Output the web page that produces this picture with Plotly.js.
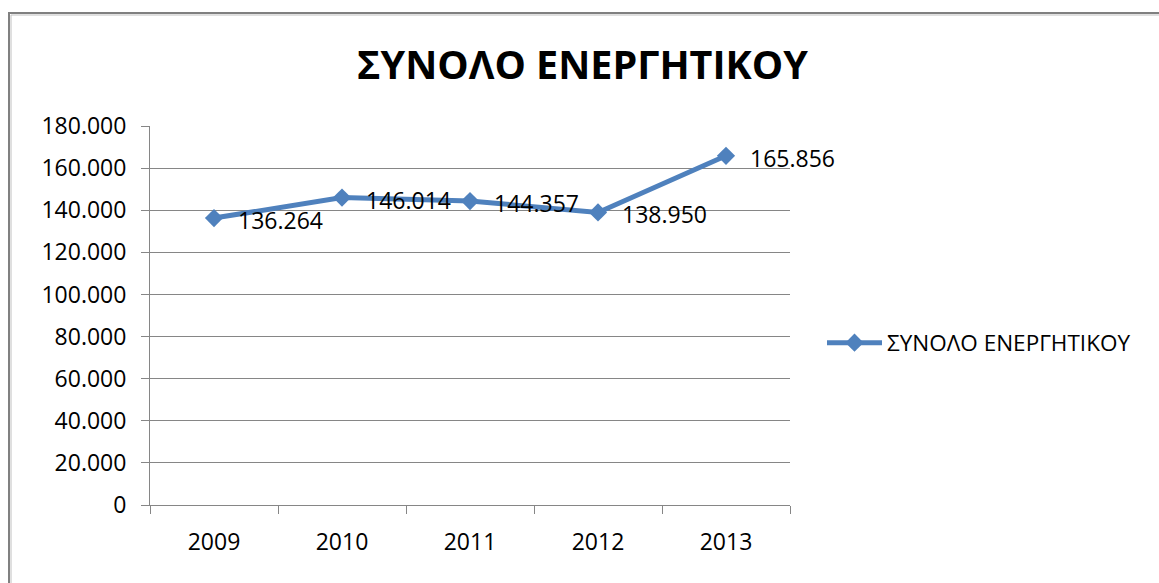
<!DOCTYPE html>
<html>
<head>
<meta charset="utf-8">
<script src="https://cdn.plot.ly/plotly-3.0.1.min.js"></script>
<style>html,body{margin:0;padding:0;background:#fff;}#chart{width:1159px;height:583px;}</style>
</head>
<body>
<div id="chart"></div>
<script>
var years = ['2009', '2010', '2011', '2012', '2013'];
var totals = [136264, 146014, 144357, 138950, 165856];
var seriesName = 'ΣΥΝΟΛΟ ΕΝΕΡΓΗΤΙΚΟΥ';
var chartTitle = 'ΣΥΝΟΛΟ ΕΝΕΡΓΗΤΙΚΟΥ';
var yTicks = [0, 20000, 40000, 60000, 80000, 100000, 120000, 140000, 160000, 180000];

var blue = '#4F81BD';
var fontFam = '"Open Sans", "Noto Sans", sans-serif';

function fmt(v) {
  return String(v).replace(/\B(?=(\d{3})+(?!\d))/g, '.');
}

var trace = {
  x: years,
  y: totals,
  name: seriesName,
  type: 'scatter',
  mode: 'lines+markers',
  line: {color: blue, width: 5},
  marker: {symbol: 'diamond', size: 14, color: blue}
};

var annotations = years.map(function (yr, i) {
  return {
    x: i, y: totals[i], xref: 'x', yref: 'y',
    text: fmt(totals[i]),
    showarrow: false, xanchor: 'left', yanchor: 'middle',
    xshift: 22, yshift: -2,
    font: {family: fontFam, size: 23, color: '#000'}
  };
});

var layout = {
  width: 1159, height: 583,
  margin: {l: 150, r: 369, t: 126, b: 78},
  paper_bgcolor: '#fff', plot_bgcolor: '#fff',
  separators: ',.',
  font: {family: fontFam, color: '#000'},
  title: {
    text: '<b>' + chartTitle + '</b>',
    font: {family: fontFam, size: 39.5, color: '#000'},
    x: 0.5026, xanchor: 'center', xref: 'container',
    y: 1 - 65 / 583, yanchor: 'middle', yref: 'container'
  },
  xaxis: {
    type: 'category',
    categoryarray: years,
    range: [-0.5, years.length - 0.5],
    autorange: false,
    showgrid: false,
    showline: true, linecolor: '#868686', linewidth: 1,
    ticks: 'outside', tickson: 'boundaries', ticklen: 8, tickcolor: '#868686',
    tickfont: {family: fontFam, size: 23, color: '#000'},
    tickangle: 0,
    ticklabelstandoff: 16,
    zeroline: false,
    fixedrange: true
  },
  yaxis: {
    range: [0, 180000],
    autorange: false,
    tickvals: yTicks,
    tickformat: ',d',
    showgrid: true, gridcolor: '#868686', gridwidth: 1,
    showline: true, linecolor: '#868686', linewidth: 1,
    ticks: 'outside', ticklen: 8, tickcolor: '#868686',
    tickfont: {family: fontFam, size: 23, color: '#000'},
    ticklabelstandoff: 10,
    zeroline: false,
    fixedrange: true
  },
  showlegend: true,
  legend: {
    x: (822 - 150) / 640, xanchor: 'left',
    y: (505 - 343) / 379, yanchor: 'middle',
    font: {family: fontFam, size: 22.5, color: '#000'},
    itemwidth: 55,
    bgcolor: 'rgba(0,0,0,0)'
  },
  annotations: annotations,
  shapes: [
    {type: 'rect', xref: 'paper', yref: 'paper',
     x0: (9 - 150) / 640, x1: (1170 - 150) / 640,
     y0: (505 - 600) / 379, y1: (505 - 13) / 379,
     line: {color: '#808080', width: 2}, layer: 'below'},
    {type: 'rect', xref: 'paper', yref: 'paper',
     x0: (11 - 150) / 640, x1: (1170 - 150) / 640,
     y0: (505 - 600) / 379, y1: (505 - 15) / 379,
     line: {color: '#c0c0c0', width: 1}, layer: 'below'}
  ]
};

Plotly.newPlot('chart', [trace], layout, {displayModeBar: false, staticPlot: true});
</script>
</body>
</html>
